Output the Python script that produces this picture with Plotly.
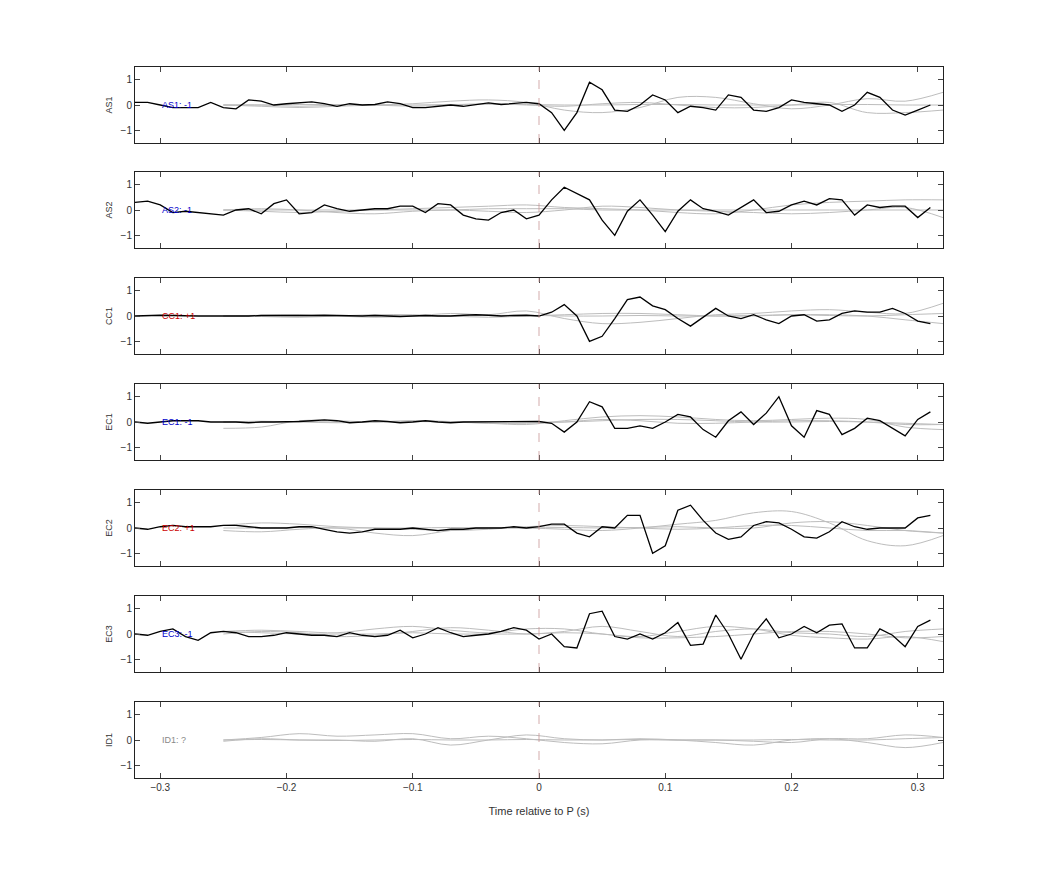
import plotly.graph_objects as go

# time axis of the stacked traces (s)
t_black = [round(-0.32 + 0.01 * i, 2) for i in range(64)]
t_grey = [round(-0.25 + 0.03 * i, 2) for i in range(20)]

stations = ['AS1', 'AS2', 'CC1', 'EC1', 'EC2', 'EC3', 'ID1']
labels = ['AS1: -1', 'AS2: -1', 'CC1: +1', 'EC1: -1', 'EC2: +1', 'EC3: -1', 'ID1: ?']
label_colors = ['#0000cc', '#0000cc', '#cc0000', '#0000cc', '#cc0000', '#0000cc', '#888888']

as1 = [0.1, 0.1, 0.0, -0.1, -0.1, -0.1, 0.1, -0.1, -0.15, 0.2, 0.15, 0.0, 0.05, 0.1, 0.12, 0.05, -0.05,
       0.05, 0.0, 0.02, 0.12, 0.05, -0.1, -0.1, -0.05, 0.0, -0.05, 0.02, 0.08, 0.02, 0.05, 0.1, 0.05,
       -0.3, -1.0, -0.3, 0.9, 0.6, -0.2, -0.25, 0.0, 0.4, 0.2, -0.3, -0.05, -0.1, -0.2, 0.4, 0.3, -0.2,
       -0.25, -0.1, 0.2, 0.1, 0.05, 0.0, -0.25, 0.0, 0.5, 0.3, -0.2, -0.4, -0.2, 0.0]
as2 = [0.3, 0.35, 0.2, -0.1, -0.05, -0.1, -0.15, -0.2, 0.0, 0.05, -0.15, 0.25, 0.4, -0.15, -0.1, 0.2,
       0.05, -0.05, 0.0, 0.05, 0.05, 0.15, 0.15, -0.1, 0.25, 0.2, -0.2, -0.35, -0.4, -0.1, 0.0, -0.35, -0.2,
       0.4, 0.9, 0.65, 0.4, -0.4, -1.0, -0.05, 0.4, -0.2, -0.85, -0.05, 0.4, 0.05, -0.05, -0.2, 0.1, 0.4,
       -0.1, -0.05, 0.2, 0.35, 0.2, 0.45, 0.4, -0.2, 0.2, 0.1, 0.15, 0.15, -0.3, 0.1]
cc1 = [0.0, 0.02, 0.03, 0.02, 0.0, 0.0, 0.0, 0.0, -0.02, 0.0, 0.02, 0.02, 0.0, 0.0, 0.02, 0.03, 0.02,
       0.0, 0.0, 0.02, 0.0, -0.02, 0.0, 0.02, 0.0, 0.0, 0.03, 0.05, 0.03, 0.0, 0.02, 0.03, 0.0,
       0.15, 0.45, 0.0, -1.0, -0.8, -0.1, 0.65, 0.75, 0.4, 0.25, -0.1, -0.4, -0.05, 0.3, 0.0, -0.1, 0.05,
       -0.15, -0.3, 0.0, 0.05, -0.2, -0.15, 0.1, 0.2, 0.15, 0.15, 0.3, 0.1, -0.2, -0.3]
ec1 = [0.0, -0.05, 0.0, 0.05, 0.05, 0.05, 0.0, 0.0, 0.0, -0.03, 0.0, 0.0, 0.0, 0.02, 0.05, 0.08, 0.05,
       -0.03, 0.0, 0.05, 0.02, -0.03, 0.0, 0.05, 0.0, -0.03, 0.0, 0.0, 0.02, 0.0, 0.0, 0.0, 0.02,
       -0.05, -0.4, 0.0, 0.8, 0.6, -0.25, -0.25, -0.15, -0.25, 0.0, 0.3, 0.2, -0.3, -0.6, 0.05, 0.4, -0.1,
       0.35, 1.0, -0.15, -0.6, 0.45, 0.3, -0.5, -0.25, 0.15, 0.05, -0.25, -0.55, 0.1, 0.4]
ec2 = [0.0, -0.05, 0.05, 0.1, 0.05, 0.05, 0.05, 0.1, 0.1, 0.05, 0.0, 0.0, 0.0, 0.05, 0.05, -0.05, -0.15,
       -0.2, -0.15, -0.05, -0.05, -0.05, 0.0, -0.05, -0.1, -0.05, -0.05, 0.0, 0.0, 0.0, 0.05, 0.0, 0.05,
       0.15, 0.15, -0.2, -0.35, 0.05, 0.0, 0.5, 0.5, -1.0, -0.7, 0.7, 0.9, 0.3, -0.2, -0.45, -0.35, 0.1,
       0.25, 0.2, -0.05, -0.35, -0.4, -0.15, 0.25, 0.05, -0.05, 0.0, 0.0, 0.0, 0.4, 0.5]
ec3 = [0.0, -0.05, 0.1, 0.2, -0.1, -0.25, 0.05, 0.1, 0.05, -0.1, -0.1, -0.05, 0.05, 0.0, -0.05, -0.05,
       -0.1, 0.05, -0.05, -0.1, -0.05, 0.15, -0.15, 0.0, 0.25, 0.05, -0.1, -0.05, 0.0, 0.1, 0.25, 0.15, -0.2,
       0.0, -0.5, -0.55, 0.8, 0.9, -0.1, -0.2, 0.0, -0.2, 0.05, 0.45, -0.45, -0.4, 0.75, 0.0, -1.0, 0.0,
       0.6, -0.15, 0.0, 0.3, 0.05, 0.35, 0.4, -0.55, -0.55, 0.2, -0.05, -0.5, 0.3, 0.55]
black = [as1, as2, cc1, ec1, ec2, ec3, None]

grey = [
    [[0, 0, 0.02, 0.02, 0, 0, 0.02, 0.03, 0.02, 0, 0, 0.02, 0.02, 0, 0, 0, 0.02, 0.02, 0, 0],
     [0, -0.05, -0.1, -0.05, 0, 0.05, 0.15, 0.2, 0.1, -0.2, -0.3, -0.1, 0.3, 0.3, 0.05, -0.15, 0.0, 0.25, 0.15, 0.5],
     [0, 0, -0.05, 0, 0, -0.05, 0, 0.05, 0, -0.05, 0.05, 0.1, 0, -0.1, -0.1, 0, 0.1, -0.3, -0.3, -0.2]],
    [[0, 0, 0, 0, 0, 0, 0, 0.05, 0.05, 0.05, 0, 0, 0, 0, 0, 0, 0, 0, 0, 0],
     [0, -0.05, -0.1, -0.05, 0, 0.05, 0.1, 0.15, 0.2, 0.1, 0.05, 0.0, -0.1, -0.15, 0.0, 0.2, 0.3, 0.35, 0.4, 0.4],
     [0, 0.05, 0, -0.1, -0.15, -0.05, 0, -0.05, -0.1, 0, 0.15, 0.1, 0, -0.05, -0.1, -0.15, -0.1, 0, 0.1, -0.3]],
    [[0, 0.02, 0, 0, 0.03, 0, 0, 0.02, 0.03, 0, 0, 0.02, 0, 0, 0.02, 0.05, 0.02, 0, 0.05, 0.1],
     [0, 0.03, 0.05, 0, -0.05, 0, 0.1, 0.05, 0.2, -0.1, -0.3, -0.25, -0.1, 0.05, 0.1, 0.2, 0.25, 0.15, 0.1, 0.5],
     [0, -0.02, -0.05, 0, 0.05, 0.05, 0, -0.05, 0, 0.05, 0.1, 0.1, 0.05, 0, 0, 0.05, 0.05, 0, -0.15, -0.3]],
    [[0, 0, 0.02, 0, 0, 0.02, 0, 0, 0, 0, 0.05, 0.1, 0.1, 0.05, 0, 0, 0.02, 0, -0.05, -0.1],
     [-0.25, -0.2, 0.05, 0.05, 0, 0.05, 0, -0.05, -0.1, 0.05, 0.2, 0.25, 0.2, 0.1, 0.05, 0.1, 0.15, 0.1, -0.2, -0.3],
     [0, 0.03, 0, -0.03, 0, 0.05, 0.02, -0.05, -0.05, 0, 0.1, 0.05, -0.05, -0.05, 0, 0.05, 0.05, 0, -0.1, -0.1]],
    [[0.1, 0.2, 0.15, 0.05, 0, -0.05, -0.1, -0.05, 0.05, 0.1, 0.05, 0.0, -0.05, 0, 0.1, 0.1, 0, -0.1, -0.1, -0.2],
     [-0.1, -0.15, -0.05, 0.0, -0.2, -0.3, -0.1, 0.0, 0.0, -0.05, -0.1, 0.0, 0.15, 0.3, 0.6, 0.65, 0.2, -0.5, -0.7, -0.3],
     [0, 0, 0.02, 0, 0, 0, 0.02, 0, 0, 0.02, 0, 0.02, 0.05, 0, 0, 0.2, 0.25, 0.1, -0.1, -0.2]],
    [[0.1, 0.15, 0.1, 0.05, 0.2, 0.3, 0.15, 0.05, 0.2, 0.2, 0.0, -0.1, 0.1, 0.3, 0.2, -0.05, -0.15, -0.2, -0.1, -0.3],
     [0, 0.1, 0.05, -0.1, -0.05, 0.1, 0.25, 0.15, 0, 0.1, 0.3, 0.1, -0.1, 0.1, 0.2, 0.05, 0, -0.1, 0.1, 0.2],
     [0.1, 0.05, 0.0, 0.0, 0.0, 0.05, 0.0, 0.0, 0.0, 0.05, 0.0, -0.15, -0.15, -0.1, 0.0, 0.1, 0.1, 0.0, -0.15, -0.1]],
    [[0, 0.1, 0.25, 0.15, 0.2, 0.25, 0.05, 0.15, 0.05, -0.1, -0.15, 0, 0, 0, -0.05, -0.1, 0.05, 0.05, 0.2, 0.1],
     [-0.05, 0.05, 0, 0, -0.05, 0.05, -0.2, 0.0, 0.2, 0.05, 0.0, 0.05, 0.0, -0.1, -0.2, 0.0, 0.05, -0.1, -0.3, -0.1],
     [0, 0.02, 0, -0.02, 0, 0.02, 0, 0, 0.02, 0, 0, 0.02, 0, 0, 0, 0.02, 0, 0, 0.05, 0.1]],
]

W, H = 1042, 875
off = 8  # page offset of the figure in the browser
left, right = 135 - off, 943 - off
tops = [t - off for t in [67, 172, 278, 384, 490, 596, 702]]
ph = 76

fig = go.Figure()
layout = dict(width=W, height=H, plot_bgcolor='white', paper_bgcolor='white', showlegend=False,
              margin=dict(l=left, r=W - right, t=tops[0], b=H - tops[-1] - ph),
              font=dict(family='Liberation Sans, Arial', size=10, color='#333'))
shapes, annos = [], []
for i, st in enumerate(stations):
    n = i + 1
    xa, ya = f'x{n}' if n > 1 else 'x', f'y{n}' if n > 1 else 'y'
    for g in grey[i]:
        fig.add_trace(go.Scatter(x=t_grey, y=g, mode='lines', line=dict(color='#bdbdbd', width=1, shape='spline'),
                                 xaxis=xa, yaxis=ya, hoverinfo='skip'))
    if black[i] is not None:
        fig.add_trace(go.Scatter(x=t_black, y=black[i], mode='lines', line=dict(color='black', width=1.3),
                                 xaxis=xa, yaxis=ya))
    top = 1 - (tops[i] - tops[0]) / (tops[-1] + ph - tops[0])
    bot = 1 - (tops[i] + ph - tops[0]) / (tops[-1] + ph - tops[0])
    suffix = str(n) if n > 1 else ''
    layout['xaxis' + suffix] = dict(domain=[0, 1], anchor=ya, range=[-0.32, 0.32], tickvals=[-0.3, -0.2, -0.1, 0, 0.1, 0.2, 0.3],
                                    ticks='inside', ticklen=5, showline=True, linecolor='#222', mirror='allticks',
                                    showgrid=False, zeroline=False, showticklabels=(n == 7),
                                    matches='x' if n > 1 else None)
    layout['yaxis' + suffix] = dict(domain=[bot, top], anchor=xa, range=[-1.5, 1.5], tickvals=[-1, 0, 1],
                                    ticks='inside', ticklen=5, showline=True, linecolor='#222', mirror='allticks',
                                    showgrid=False, zeroline=False,
                                    title=dict(text=st, font=dict(size=9), standoff=6))
    shapes.append(dict(type='line', xref=xa, yref=ya, x0=0, x1=0, y0=-1.5, y1=1.5,
                       line=dict(color='rgba(200,150,150,0.8)', width=1, dash='dash')))
    annos.append(dict(x=-0.3, y=0, xref=xa, yref=ya, text=labels[i], showarrow=False, xanchor='left',
                      font=dict(size=9, color=label_colors[i])))
layout['xaxis7']['title'] = dict(text='Time relative to P (s)', font=dict(size=11))
layout['shapes'] = shapes
layout['annotations'] = annos
fig.update_layout(**layout)
fig.write_html('out.html')
